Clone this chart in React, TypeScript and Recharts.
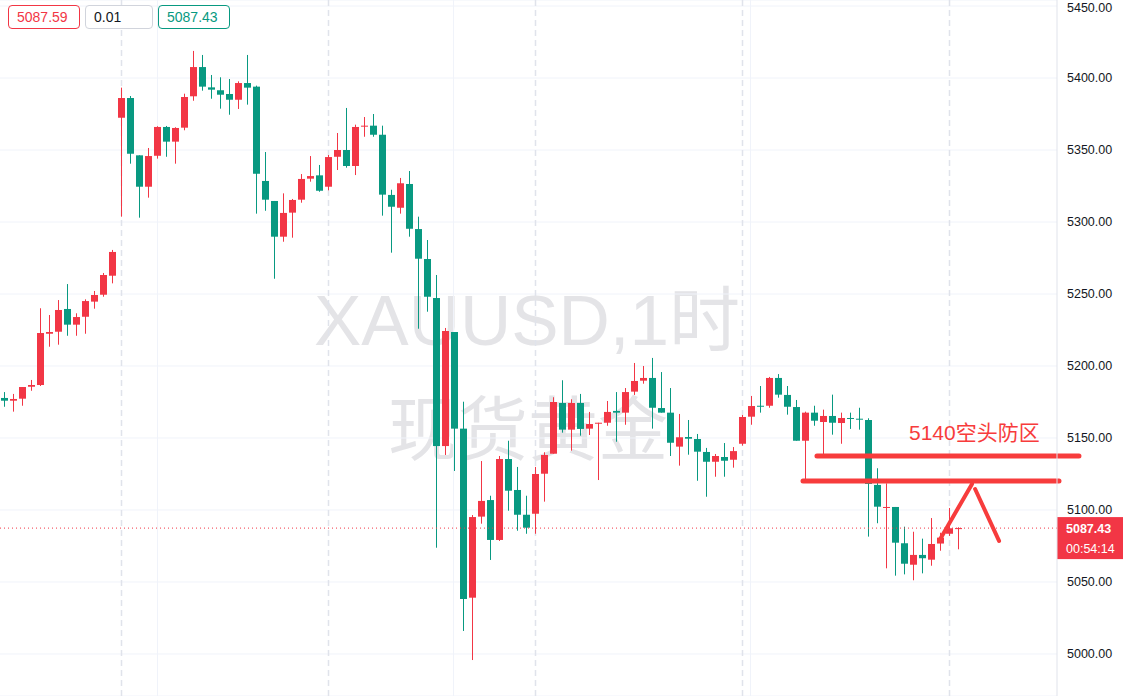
import React from 'react';
import { ComposedChart, Bar, XAxis, YAxis, CartesianGrid, ReferenceLine } from 'recharts';

const opens = [5177.8,5175.9,5177.3,5185.6,5186.8,5222.4,5223.8,5239.6,5228.7,5234.2,5244.7,5249.5,5262.7,5372.4,5386.1,5346.3,5324.5,5346.0,5366.0,5355.8,5365.5,5387.3,5407.6,5393.5,5391.5,5388.9,5384.9,5396.5,5394.0,5328.5,5314.6,5289.8,5306.5,5315.5,5330.1,5332.4,5324.5,5345.3,5350.0,5338.9,5366.5,5366.9,5360.6,5318.8,5309.9,5326.4,5295.1,5274.3,5247.2,5144.4,5223.6,5156.5,5039.1,5095.4,5106.9,5079.2,5135.4,5113.9,5096.7,5097.4,5125.2,5139.1,5174.3,5155.8,5174.3,5156.5,5160.3,5160.6,5168.8,5167.6,5182.2,5189.8,5191.7,5170.8,5167.6,5144.0,5150.7,5149.3,5140.3,5133.5,5136.8,5134.9,5146.0,5164.8,5172.4,5172.4,5191.7,5179.9,5171.5,5148.1,5167.6,5161.1,5165.3,5160.4,5163.9,5163.4,5162.5,5117.4,5101.6,5102.1,5076.9,5062.0,5068.8,5065.5,5076.7,5083.5,5087.0];
const highs = [5181.9,5180.6,5185.4,5190.3,5240.1,5235.4,5245.8,5256.9,5236.6,5246.3,5252.1,5264.6,5280.6,5393.3,5387.5,5346.3,5351.4,5366.5,5366.7,5365.8,5389.1,5418.8,5416.0,5402.1,5400.5,5399.3,5397.7,5416.0,5394.7,5348.6,5314.6,5319.9,5316.0,5333.3,5345.8,5339.6,5346.5,5361.8,5379.2,5367.6,5372.9,5375.0,5366.9,5322.4,5330.6,5335.4,5303.7,5287.5,5263.2,5226.4,5223.6,5175.2,5096.5,5134.0,5109.9,5137.5,5148.1,5129.9,5109.9,5129.9,5140.1,5178.3,5190.1,5176.9,5180.6,5168.1,5160.6,5175.7,5181.9,5184.7,5202.1,5200.0,5205.6,5195.8,5184.7,5166.7,5162.5,5152.8,5143.1,5138.9,5146.5,5143.7,5166.0,5179.2,5186.1,5192.4,5194.4,5186.1,5176.4,5168.3,5172.4,5169.7,5180.1,5167.6,5167.6,5171.0,5163.7,5129.0,5118.5,5102.1,5088.4,5084.9,5080.1,5094.4,5084.2,5101.4,5088.0];
const lows = [5171.7,5168.3,5172.4,5182.8,5186.1,5213.4,5214.8,5221.0,5221.0,5222.4,5239.8,5248.1,5257.4,5303.7,5340.5,5303.0,5316.9,5344.0,5345.3,5340.5,5363.7,5384.2,5391.2,5385.6,5378.7,5374.5,5378.5,5381.5,5305.8,5307.8,5260.6,5286.3,5289.1,5313.4,5328.0,5321.0,5322.0,5336.1,5337.7,5332.6,5359.2,5359.2,5304.4,5278.7,5305.8,5289.8,5225.9,5237.7,5073.8,5138.2,5127.1,5016.0,4995.8,5090.5,5065.3,5078.5,5099.5,5085.6,5083.5,5083.5,5105.8,5139.1,5153.7,5141.2,5151.6,5152.1,5120.8,5158.5,5147.4,5159.2,5179.9,5187.7,5156.5,5167.6,5137.5,5130.8,5138.4,5120.3,5109.2,5123.1,5123.1,5129.4,5144.7,5159.2,5167.6,5171.0,5178.0,5166.2,5148.1,5120.3,5158.5,5137.0,5152.3,5146.0,5156.3,5155.8,5081.5,5090.8,5059.5,5054.4,5055.3,5051.2,5056.0,5061.3,5071.7,5082.0,5072.7];
const closes = [5175.9,5177.1,5185.4,5186.8,5222.9,5223.6,5238.9,5228.7,5234.0,5245.1,5249.3,5263.2,5279.2,5386.1,5347.4,5324.5,5345.8,5366.0,5355.8,5365.3,5386.8,5407.6,5394.0,5391.9,5388.4,5384.9,5396.5,5393.3,5333.5,5315.5,5289.8,5306.3,5315.3,5329.9,5331.9,5321.7,5345.1,5350.0,5338.9,5366.0,5366.9,5360.6,5319.0,5310.6,5326.9,5295.3,5274.5,5248.1,5144.4,5224.3,5156.5,5038.2,5095.1,5106.3,5079.2,5135.4,5113.4,5096.7,5087.7,5125.0,5138.2,5175.0,5155.8,5174.3,5156.3,5159.7,5160.6,5168.1,5167.6,5181.9,5189.6,5191.7,5171.0,5167.6,5146.7,5150.5,5149.5,5140.5,5133.5,5137.5,5134.2,5140.9,5164.6,5172.2,5171.7,5191.7,5180.1,5171.7,5148.1,5167.6,5162.0,5165.3,5160.6,5163.9,5163.4,5162.7,5118.1,5102.3,5102.1,5077.3,5062.7,5068.8,5066.5,5076.4,5080.8,5087.3,5087.43];

const yTicks = [5000, 5050, 5100, 5150, 5200, 5250, 5300, 5350, 5400, 5450];
const xDomain = [-0.4444, 117.0];
const yDomain = [4970.83, 5454.17];
const daySeparators = [13, 36, 59, 82, 105];
const gridColumns = [17, 49.93, 82.94];
const lastPrice = 5087.43;
const countdown = '00:54:14';
const headerValues = ['5087.59', '0.01', '5087.43'];
const zoneLabel = '5140空头防区';
const watermarkTop = 'XAUUSD,1时';
const watermarkBottom = '现货黄金';
const zoneLines = [
  { x1: 90.33, x2: 119.44, y: 5137.5 },
  { x1: 88.78, x2: 117.22, y: 5120.1 },
];
const arrowStrokes = [
  { x1: 103.9, y1: 5078.5, x2: 107.56, y2: 5118.1 },
  { x1: 107.9, y1: 5114.6, x2: 110.56, y2: 5078.5 },
];

const RED = '#f23645';
const GREEN = '#089981';
const ANNOT = '#f73c3c';

const data = opens.map((o, i) => ({
  i,
  open: o,
  high: highs[i],
  low: lows[i],
  close: closes[i],
  range: [lows[i], highs[i]],
}));

const Candle = (props: any) => {
  const { x, y, width, height, payload } = props;
  if (!payload) return null;
  const { open, close, high, low } = payload;
  const color = close >= open ? RED : GREEN;
  const top0 = Math.min(y, y + height);
  const h = Math.abs(height);
  const ratio = high === low ? 0 : h / (high - low);
  const yOf = (v: number) => top0 + (high - v) * ratio;
  const cx = Math.round(x + width / 2);
  const bTop = yOf(Math.max(open, close));
  const bBot = yOf(Math.min(open, close));
  return (
    <g>
      <line x1={cx + 0.5} x2={cx + 0.5} y1={top0} y2={top0 + h} stroke={color} strokeWidth={1} />
      <rect x={cx - 3} y={bTop} width={7} height={Math.max(1, bBot - bTop)} fill={color} />
    </g>
  );
};

const PriceTag = (props: any) => {
  const vb = props.viewBox || {};
  const x = (vb.x || 0) + (vb.width || 0);
  const y = vb.y || 0;
  return (
    <g>
      <rect x={x} y={y - 11} width={66} height={42} fill={RED} />
      <text x={x + 9} y={y + 4.5} fill="#fff" fontSize={12.5} fontWeight="bold" fontFamily="Liberation Sans, Arial, sans-serif">{lastPrice.toFixed(2)}</text>
      <text x={x + 9} y={y + 25} fill="#fff" fontSize={12.5} fontFamily="Liberation Sans, Arial, sans-serif">{countdown}</text>
    </g>
  );
};

const boxStyle = (border: string, color: string, left: number, width: number): React.CSSProperties => ({
  position: 'absolute',
  left,
  top: 5,
  width,
  height: 24,
  boxSizing: 'border-box',
  border: `1px solid ${border}`,
  borderRadius: 4,
  color,
  fontSize: 14,
  lineHeight: '22px',
  paddingLeft: 8,
  fontFamily: 'Liberation Sans, Arial, sans-serif',
  background: '#fff',
});

const colsGen = (list: number[]) => (p: any) => {
  const off = p?.offset || {};
  const left = typeof off.left === 'number' ? off.left : 0;
  const width = typeof off.width === 'number' ? off.width : 1057;
  return list.map((c) => Math.round(left + ((c - xDomain[0]) / (xDomain[1] - xDomain[0])) * width) + 0.5);
};

export default function App() {
  return (
    <div style={{ position: 'absolute', left: 0, top: 0, width: 1129, height: 696, background: '#fff', overflow: 'hidden' }}>
      <svg width={1129} height={696} style={{ position: 'absolute', left: 0, top: 0 }}>
        <text x={527} y={345} textAnchor="middle" fontSize={71} fill="#e4e4e7" fontFamily="Liberation Sans, Arial, 'Noto Sans CJK SC', sans-serif">{watermarkTop}</text>
        <text x={528} y={455} textAnchor="middle" fontSize={70} fill="#e4e4e7" fontFamily="'Noto Sans CJK SC', sans-serif">{watermarkBottom}</text>
      </svg>
      <div style={{ position: 'absolute', left: 0, top: 0 }}>
        <ComposedChart width={1129} height={696} data={data} margin={{ top: 0, right: 0, bottom: 0, left: 0 }}>
          <CartesianGrid vertical={false} stroke="#f0f3fa" />
          <CartesianGrid horizontal={false} stroke="#f0f3fa" verticalCoordinatesGenerator={colsGen(gridColumns)} />
          <CartesianGrid horizontal={false} stroke="#e0e3eb" strokeWidth={1.5} strokeDasharray="6 4" verticalCoordinatesGenerator={colsGen(daySeparators)} />
          <XAxis type="number" dataKey="i" domain={xDomain} hide allowDataOverflow />
          <YAxis
            orientation="right"
            width={72}
            domain={yDomain}
            allowDataOverflow
            ticks={yTicks}
            tickFormatter={(v: number) => v.toFixed(2)}
            tickLine={false}
            tickSize={0}
            tickMargin={10}
            axisLine={{ stroke: '#e0e3eb' }}
            tick={{ fontSize: 12.5, fill: '#131722', fontFamily: 'Liberation Sans, Arial, sans-serif' }}
          />
          <ReferenceLine y={lastPrice} stroke={RED} strokeDasharray="1 3" strokeWidth={1} label={<PriceTag />} />
          <Bar dataKey="range" barSize={7} shape={<Candle />} isAnimationActive={false} />
          {zoneLines.map((l, idx) => (
            <ReferenceLine
              key={'z' + idx}
              segment={[{ x: l.x1, y: l.y }, { x: l.x2, y: l.y }]}
              stroke={ANNOT}
              strokeWidth={5}
              strokeLinecap="round"
              ifOverflow="visible"
            />
          ))}
          {arrowStrokes.map((s, idx) => (
            <ReferenceLine
              key={'a' + idx}
              segment={[{ x: s.x1, y: s.y1 }, { x: s.x2, y: s.y2 }]}
              stroke={ANNOT}
              strokeWidth={4}
              strokeLinecap="round"
              ifOverflow="visible"
            />
          ))}
        </ComposedChart>
      </div>
      <svg width={1129} height={696} style={{ position: 'absolute', left: 0, top: 0, pointerEvents: 'none' }}>
        <text x={909} y={440} fontSize={21} fill={ANNOT} fontFamily="Liberation Sans, Arial, 'Noto Sans CJK SC', sans-serif">{zoneLabel}</text>
      </svg>
      <div style={boxStyle(RED, RED, 8, 72)}>{headerValues[0]}</div>
      <div style={boxStyle('#d1d4dc', '#131722', 85, 68)}>{headerValues[1]}</div>
      <div style={boxStyle(GREEN, GREEN, 158, 72)}>{headerValues[2]}</div>
    </div>
  );
}
